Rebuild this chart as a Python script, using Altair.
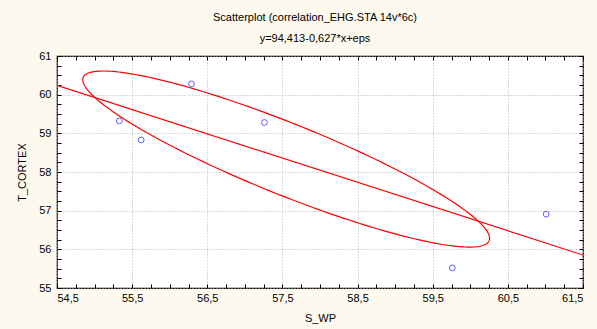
import altair as alt
import numpy as np
import pandas as pd

# ---- data ----
s_wp = [56.29, 55.33, 55.62, 57.26, 59.76, 61.01]
t_cortex = [60.28, 59.32, 58.83, 59.28, 55.52, 56.91]

x_domain = [54.5, 61.5]
y_domain = [55, 61]
x_major = [54.5, 55.5, 56.5, 57.5, 58.5, 59.5, 60.5, 61.5]
y_major = [55, 56, 57, 58, 59, 60, 61]
x_minor = [54.5 + 0.25 * i for i in range(29)]
y_minor = [55 + 0.25 * i for i in range(25)]

# regression from the subtitle: y = 94,413 - 0,627*x
reg_intercept = 94.413
reg_slope = -0.627

# ellipse: centre, half-extents, correlation
ell_center = (57.55, 58.335)
ell_half = (2.707, 2.277)
ell_r = -0.900

W, H = 526, 232
FONT = "Liberation Sans"

pts = pd.DataFrame({"S_WP": s_wp, "T_CORTEX": t_cortex})
reg = pd.DataFrame({
    "S_WP": x_domain,
    "T_CORTEX": [reg_intercept + reg_slope * x for x in x_domain],
})
t = np.linspace(0, 2 * np.pi, 241)
ell = pd.DataFrame({
    "S_WP": ell_center[0] + ell_half[0] * np.cos(t),
    "T_CORTEX": ell_center[1] + ell_half[1] * (ell_r * np.cos(t) + np.sqrt(1 - ell_r ** 2) * np.sin(t)),
    "i": np.arange(len(t)),
})

xs = alt.Scale(domain=x_domain, nice=False, zero=False)
ys = alt.Scale(domain=y_domain, nice=False, zero=False)

grid_style = dict(grid=True, gridColor="#b4b4b4", gridDash=[1, 2], gridWidth=1)
tick_only = dict(labels=False, grid=False, domain=False, ticks=True, tickSize=4,
                 tickColor="black", tickWidth=1, title=None)

main_x = alt.Axis(orient="bottom", values=x_major,
                  labelExpr="replace(format(datum.value, '.1f'), '.', ',')",
                  ticks=False, tickSize=0, domain=False,
                  labelFont=FONT, labelFontSize=11, labelColor="black", labelPadding=4,
                  title="S_WP", titleFont=FONT, titleFontSize=11, titleFontWeight="normal",
                  titleColor="black", titlePadding=9, **grid_style)
main_y = alt.Axis(orient="left", values=y_major, format="d",
                  ticks=False, tickSize=0, domain=False,
                  labelFont=FONT, labelFontSize=11, labelColor="black", labelPadding=6,
                  title="T_CORTEX", titleFont=FONT, titleFontSize=11, titleFontWeight="normal",
                  titleColor="black", titlePadding=11, **grid_style)

points = alt.Chart(pts).mark_point(
    shape="circle", filled=False, color="#1a1aff", size=34, strokeWidth=1
).encode(
    x=alt.X("S_WP:Q", scale=xs, axis=main_x),
    y=alt.Y("T_CORTEX:Q", scale=ys, axis=main_y),
)

line = alt.Chart(reg).mark_line(color="#ff0000", strokeWidth=1.2, clip=True).encode(
    x=alt.X("S_WP:Q", scale=xs, axis=alt.Axis(orient="top", offset=-H, values=x_minor, **tick_only)),
    y=alt.Y("T_CORTEX:Q", scale=ys, axis=alt.Axis(orient="right", offset=-W, values=y_minor, **tick_only)),
)

ellipse = alt.Chart(ell).mark_line(color="#ff0000", strokeWidth=1.2, clip=True).encode(
    x=alt.X("S_WP:Q", scale=xs, axis=alt.Axis(orient="bottom", offset=-H, values=x_minor, **tick_only)),
    y=alt.Y("T_CORTEX:Q", scale=ys, axis=alt.Axis(orient="left", offset=-W, values=y_minor, **tick_only)),
    order="i:Q",
)

chart = alt.layer(ellipse, line, points).resolve_axis(
    x="independent", y="independent"
).properties(
    width=W,
    height=H,
    autosize="none",
    padding={"left": 57, "top": 56, "right": 14, "bottom": 41},
    background="#fdf9ee",
    title=alt.TitleParams(
        text="Scatterplot (correlation_EHG.STA 14v*6c)",
        subtitle="y=94,413-0,627*x+eps",
        font=FONT, fontSize=11, fontWeight="normal", color="black",
        subtitleFont=FONT, subtitleFontSize=11, subtitleColor="black",
        anchor="middle", offset=6, subtitlePadding=10, dx=-5,
    ),
).configure_view(stroke="black", strokeWidth=1.2, fill="white")

chart.save("out.html", embed_options={"renderer": "svg", "actions": False})
